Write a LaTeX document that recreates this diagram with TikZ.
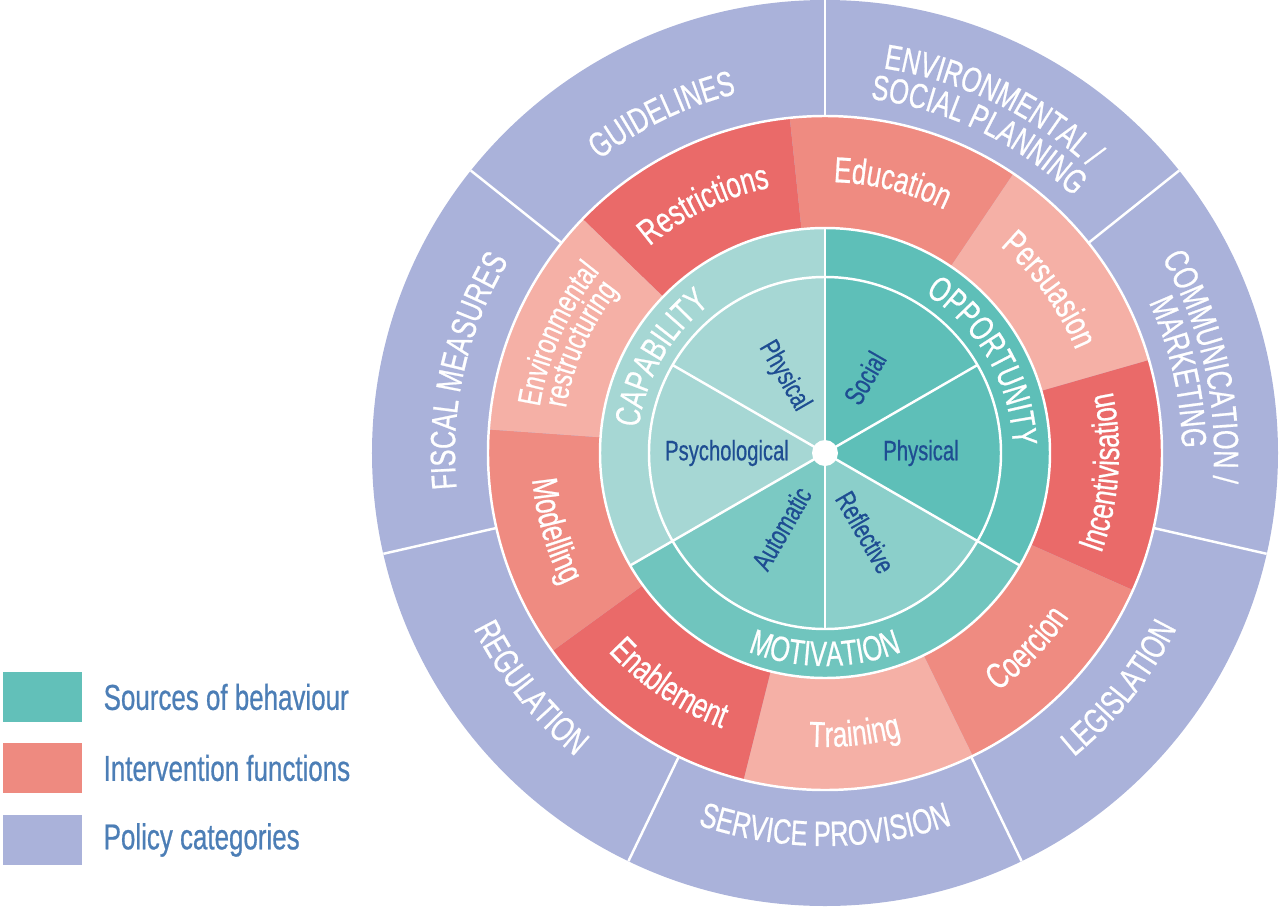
\documentclass[tikz,border=0pt]{standalone}
\usepackage{fontspec}
\setmainfont{Liberation Sans}[FakeStretch=0.72, FakeBold=0.6]
\usetikzlibrary{decorations.text,positioning}

\definecolor{policy}{HTML}{AAB2DA}
\definecolor{intdark}{HTML}{EA6A69}
\definecolor{intmid}{HTML}{EF8B81}
\definecolor{intlight}{HTML}{F5B0A6}
\definecolor{srcdark}{HTML}{5EBFB8}
\definecolor{srclight}{HTML}{A6D7D4}
\definecolor{srcmot}{HTML}{70C5BE}
\definecolor{srcauto}{HTML}{7BC9C3}
\definecolor{srcrefl}{HTML}{8BCFCA}
\definecolor{inblue}{HTML}{1E4D92}
\definecolor{legblue}{HTML}{4C7EB6}
\definecolor{legteal}{HTML}{62C0B9}
\definecolor{legred}{HTML}{EE8A80}

% ring piece: colour, from, to, inner, outer
\newcommand{\ringpart}[5]{\fill[#1] (#2:#4) arc[start angle=#2, end angle=#3, radius=#4]
  -- (#3:#5) arc[start angle=#3, end angle=#2, radius=#5] -- cycle;}
% pie piece: colour, from, to, radius
\newcommand{\piepart}[4]{\fill[#1] (0,0) -- (#2:#4) arc[start angle=#2, end angle=#3, radius=#4] -- cycle;}
% curved labels: angle, radius, half span, text
\newcommand{\cwlabel}[4]{\path[decorate, decoration={text along path, text align=center, text={#4}}]
  (#1+#3:#2) arc[start angle=#1+#3, end angle=#1-#3, radius=#2];}
\newcommand{\ccwlabel}[4]{\path[decorate, decoration={text along path, text align=center, text={#4}}]
  (#1-#3:#2) arc[start angle=#1-#3, end angle=#1+#3, radius=#2];}

\newcommand{\polfont}{\fontsize{20}{24}\selectfont\color{white}}
\newcommand{\intfont}{\fontsize{20.5}{24}\selectfont\color{white}}
\newcommand{\envfont}{\fontsize{18.5}{22}\selectfont\color{white}}
\newcommand{\srcfont}{\fontsize{20}{24}\selectfont\color{white}}

\begin{document}
\begin{tikzpicture}[x=0.02cm, y=0.02cm,
  sep/.style={white, line width=1.4pt},
  inlabel/.style={text=inblue, font=\fontsize{16}{18}\selectfont, inner sep=0},
  legbox/.style={minimum width=1.58cm, minimum height=1cm, inner sep=0},
  legtext/.style={text=legblue, font=\fontsize{20.5}{24}\selectfont, inner sep=0, anchor=west}]
\useasboundingbox (-825,-457) rectangle (455,453);

% policy categories
\fill[policy] (0,0) circle[radius=453];

% intervention functions
\foreach \a/\c in {96/intdark, 56/intmid, 16/intlight, -24/intdark, -64/intmid,
  -104/intlight, -144/intdark, -184/intmid, 136/intlight}
  \ringpart{\c}{\a}{\a+40}{225}{337};

% sources of behaviour
\ringpart{srclight}{90}{210}{176}{225}
\ringpart{srcdark}{-30}{90}{176}{225}
\ringpart{srcmot}{210}{330}{176}{225}
\piepart{srclight}{90}{150}{176}
\piepart{srclight}{150}{210}{176}
\piepart{srcauto}{210}{270}{176}
\piepart{srcrefl}{270}{330}{176}
\piepart{srcdark}{-30}{30}{176}
\piepart{srcdark}{30}{90}{176}

% white lines
\draw[sep] (0,0) circle[radius=176];
\draw[sep] (0,0) circle[radius=225];
\draw[sep] (0,0) circle[radius=337];
\foreach \a in {90,210,330} \draw[sep] (0,0) -- (\a:225);
\foreach \a in {30,150,270} \draw[sep] (0,0) -- (\a:176);
\foreach \i in {0,...,6} \draw[sep] (90-\i*51.4286:337) -- (90-\i*51.4286:453);
\fill[white] (0,0) circle[radius=13];

% policy labels
\cwlabel{115.71}{370}{25}{|\polfont|GUIDELINES}
\cwlabel{64.29}{389}{25}{|\polfont|ENVIRONMENTAL /}
\cwlabel{64.29}{357}{25}{|\polfont|SOCIAL PLANNING}
\cwlabel{12.86}{389}{25}{|\polfont|COMMUNICATION /}
\cwlabel{12.86}{357}{25}{|\polfont|MARKETING}
\ccwlabel{-38.57}{393}{25}{|\polfont|LEGISLATION}
\ccwlabel{-90}{393}{25}{|\polfont|SERVICE PROVISION}
\ccwlabel{-141.43}{393}{25}{|\polfont|REGULATION}
\cwlabel{167.14}{370}{25}{|\polfont|FISCAL MEASURES}

% intervention labels
\cwlabel{116}{271}{24}{|\intfont|Restrictions}
\cwlabel{76}{271}{24}{|\intfont|Education}
\cwlabel{36}{271}{24}{|\intfont|Persuasion}
\ccwlabel{-4}{294}{24}{|\intfont|Incentivisation}
\ccwlabel{-44}{294}{24}{|\intfont|Coercion}
\ccwlabel{-84}{294}{24}{|\intfont|Training}
\ccwlabel{-124}{294}{24}{|\intfont|Enablement}
\ccwlabel{-164}{294}{24}{|\intfont|Modelling}
\cwlabel{156}{289}{24}{|\envfont|Environmental}
\cwlabel{156}{263}{24}{|\envfont|restructuring}

% source labels
\cwlabel{150}{188}{55}{|\srcfont|CAPABILITY}
\cwlabel{30}{188}{55}{|\srcfont|OPPORTUNITY}
\ccwlabel{270}{213}{55}{|\srcfont|MOTIVATION}

\node[inlabel, rotate=-60] (capphys) at (118:87) {Physical};
\node[inlabel] (psych) at (180:98) {Psychological};
\node[inlabel, rotate=60] (auto) at (240:87) {Automatic};
\node[inlabel, rotate=-60] (refl) at (297:89) {Reflective};
\node[inlabel] (oppphys) at (0:96) {Physical};
\node[inlabel, rotate=60] (social) at (62:85) {Social};

% legend
\node[legbox, fill=legteal] (keysrc) at (-782.5,-244) {};
\node[legbox, fill=legred] (keyint) at (-782.5,-315) {};
\node[legbox, fill=policy] (keypol) at (-782.5,-387) {};
\node[legtext, right=0.42cm of keysrc] (txtsrc) {Sources of behaviour};
\node[legtext, right=0.42cm of keyint] (txtint) {Intervention functions};
\node[legtext, right=0.42cm of keypol] (txtpol) {Policy categories};
\end{tikzpicture}
\end{document}
